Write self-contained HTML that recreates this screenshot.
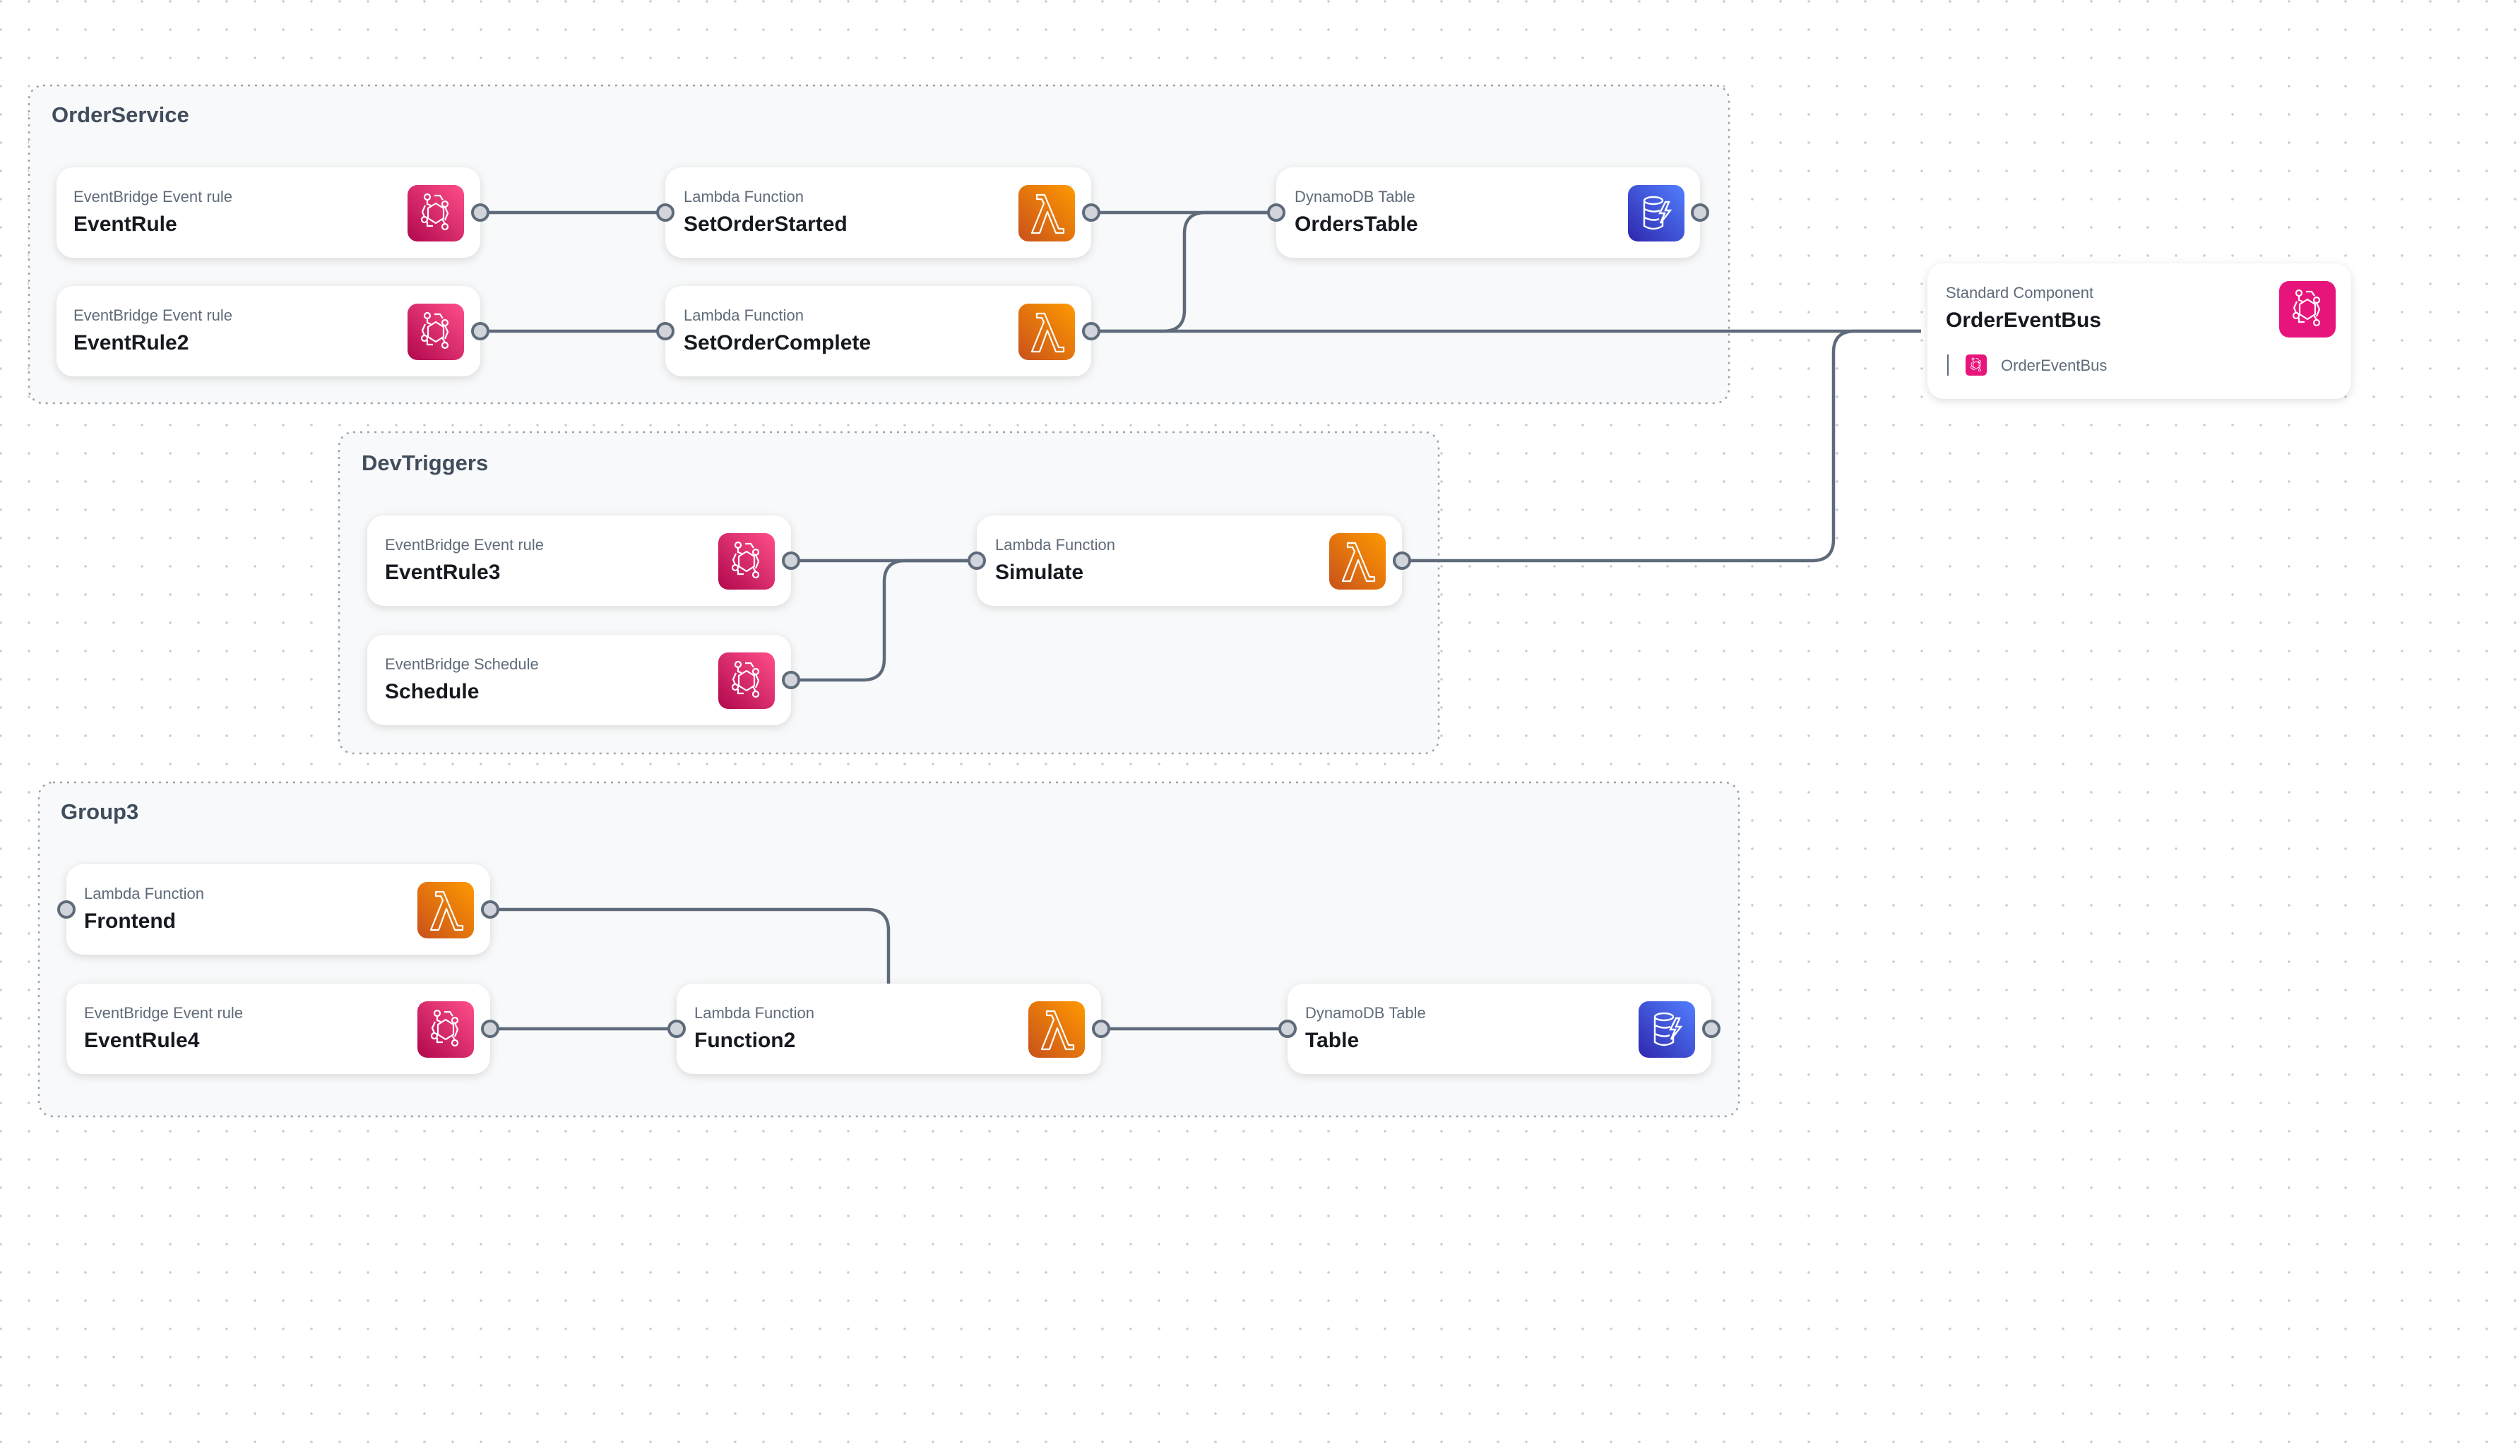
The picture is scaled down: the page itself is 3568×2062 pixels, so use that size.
<!DOCTYPE html>
<html><head><meta charset="utf-8"><style>
html,body{margin:0;padding:0;}
body{width:3568px;height:2062px;overflow:hidden;background:#fff;
background-image:radial-gradient(circle,#c9ced4 1.6px,transparent 2px);background-size:40px 40px;background-position:-19px -18px;}
svg{position:absolute;left:0;top:0;}
text{font-family:"Liberation Sans",sans-serif;}
.lbl{font-size:22px;fill:#5f6b7a;}
.nm{font-size:30px;font-weight:bold;fill:#16191f;}
.gt{font-size:31px;font-weight:bold;fill:#414d5c;}
.edge{fill:none;stroke:#5f6b7a;stroke-width:4.5;}
.port{fill:#d1d5db;stroke:#5f6b7a;stroke-width:4;}
.grp{fill:#f8f9fa;stroke:#9ba3ab;stroke-width:2.5;stroke-dasharray:3 7;}
.node{fill:#fff;filter:url(#sh);}
</style></head><body>
<svg width="3568" height="2062" viewBox="0 0 3568 2062">
<defs>
<filter id="sh" x="-10%" y="-20%" width="120%" height="150%"><feDropShadow dx="0" dy="3" stdDeviation="6" flood-color="#000" flood-opacity="0.13"/></filter>
<linearGradient id="gp" x1="0" y1="1" x2="1" y2="0"><stop offset="0" stop-color="#b0084d"/><stop offset="1" stop-color="#ff4f8b"/></linearGradient>
<linearGradient id="go" x1="0" y1="1" x2="1" y2="0"><stop offset="0" stop-color="#c8511b"/><stop offset="1" stop-color="#ff9900"/></linearGradient>
<linearGradient id="gb" x1="0" y1="1" x2="1" y2="0"><stop offset="0" stop-color="#2e27ad"/><stop offset="1" stop-color="#527fff"/></linearGradient>
<g id="evg" fill="none" stroke="#fff" stroke-width="2.2">
<polygon points="40,26 51,33 51,47 40,54 29,47 29,33"/>
<circle cx="28" cy="17" r="4"/><path d="M28,21 V27 L33,29"/>
<path d="M38,15 H46 L50,21"/><circle cx="53" cy="27" r="4"/><path d="M53,31 L57,40 L53,50"/>
<circle cx="24" cy="49" r="4"/><path d="M24,45 L21,38 L25,29"/><path d="M28,52 V58 H36"/>
<circle cx="53" cy="59" r="4"/><path d="M53,55 L49,48"/>
</g>
<g id="eb"><rect width="80" height="80" rx="14" fill="url(#gp)"/><use href="#evg"/></g>
<g id="lm"><rect width="80" height="80" rx="14" fill="url(#go)"/>
<path d="M26,14 H37 L57,62 H64 V68 H53 L41,38 L30,68 H19 L36,26 L33,20 H26 Z" fill="none" stroke="#fff" stroke-width="2.2" stroke-linejoin="round"/></g>
<g id="db"><rect width="80" height="80" rx="14" fill="url(#gb)"/>
<g fill="none" stroke="#fff" stroke-width="2.4"><ellipse cx="36" cy="22" rx="13" ry="5"/><path d="M23,22 V58 Q36,66 49,58 V46"/><path d="M23,34 Q36,40 45,36"/><path d="M23,46 Q36,52 44,48"/><path d="M53,24 L45,40 H52 L46,54 L60,36 H53 L58,24 Z"/></g></g>
</defs>

<!-- groups -->
<rect class="grp" x="41" y="121" width="2407" height="450" rx="20"/>
<text class="gt" x="73" y="173">OrderService</text>
<rect class="grp" x="480" y="612" width="1557" height="455" rx="20"/>
<text class="gt" x="512" y="666">DevTriggers</text>
<rect class="grp" x="55" y="1108" width="2407" height="473" rx="20"/>
<text class="gt" x="86" y="1160">Group3</text>

<!-- edges -->
<path class="edge" d="M680,301 H942"/>
<path class="edge" d="M680,469 H942"/>
<path class="edge" d="M1545,301 H1807"/>
<path class="edge" d="M1545,469 H1647 Q1677,469 1677,439 V331 Q1677,301 1707,301 H1807"/>
<path class="edge" d="M1545,469 H2720"/>
<path class="edge" d="M1985,794 H2566 Q2596,794 2596,764 V499 Q2596,469 2626,469 H2720"/>
<path class="edge" d="M1120,794 H1383"/>
<path class="edge" d="M1120,963 H1222 Q1252,963 1252,933 V824 Q1252,794 1282,794 H1383"/>
<path class="edge" d="M694,1457 H958"/>
<path class="edge" d="M1559,1457 H1823"/>
<path class="edge" d="M694,1288 H1228 Q1258,1288 1258,1318 V1393"/>

<!-- nodes -->
<g>
<rect class="node" x="80" y="237" width="600" height="128" rx="24"/>
<text class="lbl" x="104" y="286">EventBridge Event rule</text><text class="nm" x="104" y="327">EventRule</text>
<use href="#eb" x="577" y="262"/>

<rect class="node" x="80" y="405" width="600" height="128" rx="24"/>
<text class="lbl" x="104" y="454">EventBridge Event rule</text><text class="nm" x="104" y="495">EventRule2</text>
<use href="#eb" x="577" y="430"/>

<rect class="node" x="942" y="237" width="603" height="128" rx="24"/>
<text class="lbl" x="968" y="286">Lambda Function</text><text class="nm" x="968" y="327">SetOrderStarted</text>
<use href="#lm" x="1442" y="262"/>

<rect class="node" x="942" y="405" width="603" height="128" rx="24"/>
<text class="lbl" x="968" y="454">Lambda Function</text><text class="nm" x="968" y="495">SetOrderComplete</text>
<use href="#lm" x="1442" y="430"/>

<rect class="node" x="1807" y="237" width="600" height="128" rx="24"/>
<text class="lbl" x="1833" y="286">DynamoDB Table</text><text class="nm" x="1833" y="327">OrdersTable</text>
<use href="#db" x="2305" y="262"/>

<rect class="node" x="2729" y="373" width="600" height="192" rx="24"/>
<text class="lbl" x="2755" y="422">Standard Component</text><text class="nm" x="2755" y="463">OrderEventBus</text>
<rect x="3227" y="398" width="80" height="80" rx="14" fill="#e7157b"/><use href="#evg" x="3227" y="398"/>
<rect x="2757" y="502" width="2" height="30" fill="#5f6b7a"/>
<g transform="translate(2783,502) scale(0.375)"><rect width="80" height="80" rx="14" fill="#e7157b"/><use href="#evg"/></g>
<text class="lbl" x="2833" y="525">OrderEventBus</text>

<rect class="node" x="520" y="730" width="600" height="128" rx="24"/>
<text class="lbl" x="545" y="779">EventBridge Event rule</text><text class="nm" x="545" y="820">EventRule3</text>
<use href="#eb" x="1017" y="755"/>

<rect class="node" x="520" y="899" width="600" height="128" rx="24"/>
<text class="lbl" x="545" y="948">EventBridge Schedule</text><text class="nm" x="545" y="989">Schedule</text>
<use href="#eb" x="1017" y="924"/>

<rect class="node" x="1383" y="730" width="602" height="128" rx="24"/>
<text class="lbl" x="1409" y="779">Lambda Function</text><text class="nm" x="1409" y="820">Simulate</text>
<use href="#lm" x="1882" y="755"/>

<rect class="node" x="94" y="1224" width="600" height="128" rx="24"/>
<text class="lbl" x="119" y="1273">Lambda Function</text><text class="nm" x="119" y="1314">Frontend</text>
<use href="#lm" x="591" y="1249"/>

<rect class="node" x="94" y="1393" width="600" height="128" rx="24"/>
<text class="lbl" x="119" y="1442">EventBridge Event rule</text><text class="nm" x="119" y="1483">EventRule4</text>
<use href="#eb" x="591" y="1418"/>

<rect class="node" x="958" y="1393" width="601" height="128" rx="24"/>
<text class="lbl" x="983" y="1442">Lambda Function</text><text class="nm" x="983" y="1483">Function2</text>
<use href="#lm" x="1456" y="1418"/>

<rect class="node" x="1823" y="1393" width="600" height="128" rx="24"/>
<text class="lbl" x="1848" y="1442">DynamoDB Table</text><text class="nm" x="1848" y="1483">Table</text>
<use href="#db" x="2320" y="1418"/>
</g>

<!-- ports -->
<g class="port">
<circle cx="680" cy="301" r="11"/><circle cx="680" cy="469" r="11"/>
<circle cx="942" cy="301" r="11"/><circle cx="1545" cy="301" r="11"/>
<circle cx="942" cy="469" r="11"/><circle cx="1545" cy="469" r="11"/>
<circle cx="1807" cy="301" r="11"/><circle cx="2407" cy="301" r="11"/>
<circle cx="1120" cy="794" r="11"/><circle cx="1120" cy="963" r="11"/>
<circle cx="1383" cy="794" r="11"/><circle cx="1985" cy="794" r="11"/>
<circle cx="94" cy="1288" r="11"/><circle cx="694" cy="1288" r="11"/>
<circle cx="694" cy="1457" r="11"/>
<circle cx="958" cy="1457" r="11"/><circle cx="1559" cy="1457" r="11"/>
<circle cx="1823" cy="1457" r="11"/><circle cx="2423" cy="1457" r="11"/>
</g>
</svg>
</body></html>
